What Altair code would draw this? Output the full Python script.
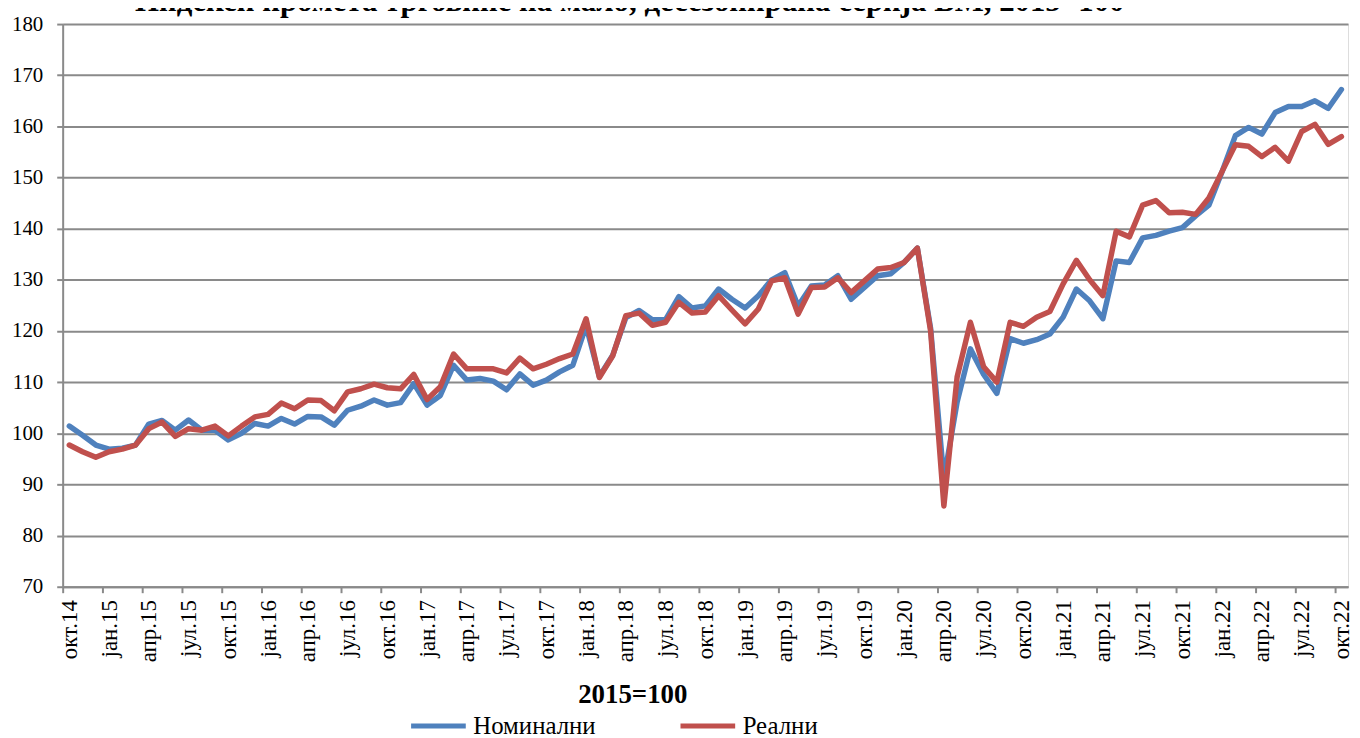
import json
import altair as alt
import pandas as pd

months = [
    "окт.14", "нов.14", "дец.14",
    "јан.15", "феб.15", "мар.15", "апр.15", "мај.15", "јун.15", "јул.15", "авг.15", "сеп.15", "окт.15", "нов.15", "дец.15",
    "јан.16", "феб.16", "мар.16", "апр.16", "мај.16", "јун.16", "јул.16", "авг.16", "сеп.16", "окт.16", "нов.16", "дец.16",
    "јан.17", "феб.17", "мар.17", "апр.17", "мај.17", "јун.17", "јул.17", "авг.17", "сеп.17", "окт.17", "нов.17", "дец.17",
    "јан.18", "феб.18", "мар.18", "апр.18", "мај.18", "јун.18", "јул.18", "авг.18", "сеп.18", "окт.18", "нов.18", "дец.18",
    "јан.19", "феб.19", "мар.19", "апр.19", "мај.19", "јун.19", "јул.19", "авг.19", "сеп.19", "окт.19", "нов.19", "дец.19",
    "јан.20", "феб.20", "мар.20", "апр.20", "мај.20", "јун.20", "јул.20", "авг.20", "сеп.20", "окт.20", "нов.20", "дец.20",
    "јан.21", "феб.21", "мар.21", "апр.21", "мај.21", "јун.21", "јул.21", "авг.21", "сеп.21", "окт.21", "нов.21", "дец.21",
    "јан.22", "феб.22", "мар.22", "апр.22", "мај.22", "јун.22", "јул.22", "авг.22", "сеп.22", "окт.22",
]

nominal = [
    101.4, 99.6, 97.7,
    96.9, 97.1, 97.7, 101.8, 102.5, 100.6, 102.6, 100.6, 100.6, 98.7, 100.0, 101.9,
    101.4, 102.9, 101.8, 103.3, 103.2, 101.6, 104.5, 105.3, 106.5, 105.5, 106.0, 109.7,
    105.5, 107.4, 113.3, 110.4, 110.7, 110.2, 108.5, 111.6, 109.4, 110.4, 112.0, 113.3,
    121.0, 111.1, 115.2, 122.6, 124.0, 122.2, 122.2, 126.7, 124.5, 124.9, 128.2, 126.2,
    124.5, 126.9, 130.0, 131.4, 124.9, 128.8, 129.0, 130.8, 126.2, 128.5, 130.8, 131.2,
    133.4, 136.2, 120.5, 91.0, 106.1, 116.5, 111.5, 107.8, 118.5, 117.6, 118.3, 119.4,
    122.7, 128.2, 125.9, 122.4, 133.7, 133.4, 138.2, 138.7, 139.5, 140.2, 142.5, 144.6,
    151.2, 158.2, 159.8, 158.5, 162.7, 163.9, 163.9, 165.0, 163.5, 167.2,
]

real = [
    97.7, 96.4, 95.3,
    96.4, 96.9, 97.7, 100.9, 102.2, 99.4, 100.9, 100.6, 101.4, 99.5, 101.4, 103.2,
    103.7, 105.9, 104.8, 106.5, 106.4, 104.4, 108.1, 108.7, 109.6, 108.9, 108.7, 111.5,
    106.6, 109.1, 115.5, 112.6, 112.6, 112.6, 111.8, 114.7, 112.6, 113.5, 114.6, 115.5,
    122.4, 110.9, 115.1, 123.0, 123.5, 121.1, 121.7, 125.6, 123.5, 123.7, 126.9, 124.1,
    121.4, 124.3, 129.8, 130.4, 123.3, 128.5, 128.6, 130.4, 127.5, 129.8, 132.1, 132.4,
    133.4, 136.2, 120.0, 85.8, 111.0, 121.7, 113.0, 110.0, 121.7, 120.9, 122.7, 123.8,
    129.2, 133.8, 130.0, 126.9, 139.5, 138.4, 144.6, 145.5, 143.1, 143.2, 142.8, 146.0,
    151.2, 156.4, 156.1, 154.1, 155.9, 153.2, 159.0, 160.4, 156.5, 158.0,
]

series_names = ["Номинални", "Реални"]
series_colors = ["#4F81BD", "#C0504D"]
y_ticks = [70, 80, 90, 100, 110, 120, 130, 140, 150, 160, 170, 180]
x_label_idx = list(range(0, len(months), 3))

df_nom = pd.DataFrame({"idx": range(len(months)), "month": months,
                       "value": nominal, "series": series_names[0]})
df_real = pd.DataFrame({"idx": range(len(months)), "month": months,
                        "value": real, "series": series_names[1]})

FONT = "Liberation Serif"
GRID = "#8a8a8a"
W = 1293
H = 566
half = W / len(months) / 2

x_enc = alt.X(
    "idx:Q",
    scale=alt.Scale(domain=[-0.5, len(months) - 0.5], nice=False, zero=False),
    axis=alt.Axis(
        values=x_label_idx,
        labelExpr=json.dumps(months, ensure_ascii=False) + "[datum.value]",
        labelAngle=270,
        labelAlign="right",
        labelBaseline="middle",
        labelFont=FONT,
        labelFontSize=23,
        labelColor="#000000",
        labelPadding=7,
        labelOverlap=False,
        labelFlush=False,
        labelBound=False,
        tickOffset=-half,
        labelOffset=half,
        tickSize=6,
        tickColor=GRID,
        tickWidth=2,
        domainColor=GRID,
        domainWidth=2,
        grid=False,
        title="2015=100",
        titleFont=FONT,
        titleFontSize=27,
        titleFontWeight="bold",
        titleColor="#000000",
        titleX=573,
        titleY=108,
        titleBaseline="middle",
        titleAnchor="start",
        titleAlign="center",
    ),
)

y_enc = alt.Y(
    "value:Q",
    scale=alt.Scale(domain=[70, 180], nice=False, zero=False),
    axis=alt.Axis(
        values=y_ticks,
        labelFont=FONT,
        labelFontSize=21,
        labelColor="#000000",
        labelPadding=14,
        tickSize=6,
        tickColor=GRID,
        tickWidth=2,
        domainColor=GRID,
        domainWidth=2,
        grid=True,
        gridColor=GRID,
        gridWidth=2,
        title=None,
    ),
)

color_enc = alt.Color(
    "series:N",
    scale=alt.Scale(domain=series_names, range=series_colors),
    legend=alt.Legend(
        title=None,
        orient="none",
        legendX=348,
        legendY=676,
        direction="horizontal",
        symbolType="stroke",
        symbolSize=3025,
        symbolStrokeWidth=5,
        labelFont=FONT,
        labelFontSize=25,
        labelColor="#000000",
        labelOffset=5,
        columnPadding=74,
        padding=0,
    ),
)

line_nom = alt.Chart(df_nom).mark_line(strokeWidth=5.5, strokeJoin="round", strokeCap="round").encode(
    x=x_enc, y=y_enc, color=color_enc
)
line_real = alt.Chart(df_real).mark_line(strokeWidth=5.5, strokeJoin="round", strokeCap="round").encode(
    x=x_enc, y=y_enc, color=color_enc
)

chart = alt.layer(line_nom, line_real).properties(
    width=W,
    height=H,
    autosize=alt.AutoSizeParams(type="none"),
    padding={"left": 55, "top": 14, "right": 4, "bottom": 150},
    title=alt.TitleParams(
        text="Индекси промета трговине на мало, десезонирана серија ВМ, 2015=100",
        font=FONT,
        fontSize=31,
        fontWeight="bold",
        color="#000000",
        anchor="middle",
        dx=-76,
        dy=5,
        offset=0,
    ),
).configure_view(stroke=None).configure(background="#ffffff")

chart.save("out.html", embed_options={"renderer": "svg", "actions": False})
